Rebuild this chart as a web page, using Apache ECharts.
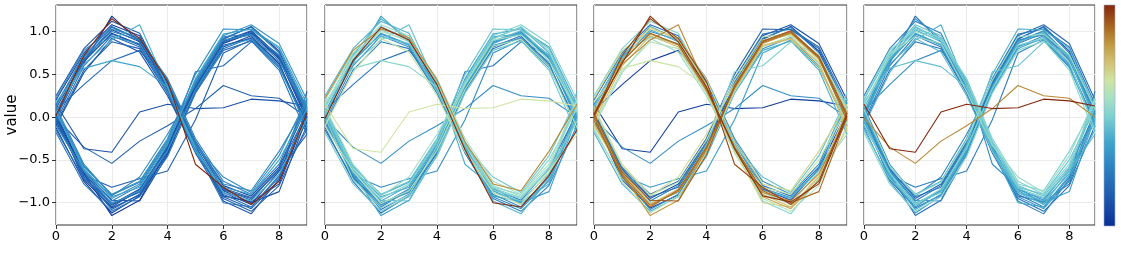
<!DOCTYPE html>
<html><head><meta charset="utf-8">
<script src="https://cdn.jsdelivr.net/npm/echarts@6/dist/echarts.min.js"></script>
<style>html,body{margin:0;padding:0;background:#fff}#c{width:1121px;height:265px}</style>
</head><body><div id="c"></div>
<script>
const xs = [0,1,2,3,4,5,6,7,8,9];
const yTicks = [-1.0,-0.5,0.0,0.5,1.0];
const xTicks = [0,2,4,6,8];
const yLabel = "value";

// series values (one row per line)
const lines = [
 [0.02, 0.72, 1.15, 0.92, 0.42, -0.55, -0.82, -1.02, -0.75, 0.05],
 [0.10, 0.68, 1.02, 0.88, 0.38, -0.30, -0.85, -0.95, -0.62, -0.05],
 [-0.05, 0.60, 0.95, 0.82, 0.30, -0.38, -0.90, -1.05, -0.70, 0.08],
 [0.20, 0.75, 1.08, 0.95, 0.40, -0.28, -0.80, -0.92, -0.58, 0.12],
 [0.05, 0.62, 0.90, 1.08, 0.35, -0.36, -0.88, -0.98, -0.66, -0.02],
 [-0.08, 0.55, 0.88, 0.80, 0.28, -0.42, -0.95, -1.10, -0.80, -0.10],
 [0.15, 0.70, 1.00, 0.90, 0.45, -0.25, -0.75, -0.90, -0.55, 0.20],
 [0.00, 0.65, 0.98, 0.85, 0.32, -0.35, -0.86, -1.00, -0.87, 0.00],
 [0.25, 0.80, 1.12, 0.98, 0.36, -0.32, -0.98, -1.13, -0.72, 0.30],
 [0.08, 0.38, 0.66, 0.78, 0.40, -0.30, -0.84, -0.97, -0.60, 0.05],
 [0.18, 0.57, 0.66, 0.59, 0.35, -0.40, -0.82, -0.90, -0.50, 0.10],
 [-0.02, 0.66, 1.05, 0.90, 0.38, -0.38, -1.00, -1.05, -0.68, -0.15],
 [0.12, 0.74, 0.94, 0.86, 0.30, -0.33, -0.70, -0.88, -0.45, 0.22],
 [0.03, 0.63, 1.18, 0.88, 0.35, -0.37, -0.92, -0.99, -0.78, 0.02],
 [-0.10, 0.52, 0.92, 0.76, 0.25, -0.40, -0.88, -1.02, -0.63, -0.20],
 [0.22, 0.78, 1.03, 0.93, 0.44, -0.29, -0.78, -0.86, -0.40, 0.15],
 [0.06, 0.67, 0.97, 0.84, 0.33, -0.36, -0.93, -1.07, -0.74, 0.04],
 [0.14, 0.71, 1.06, 0.91, 0.37, -0.31, -0.83, -0.94, -0.61, 0.18],
 [0.00, -0.70, -1.05, -0.85, -0.35, 0.35, 0.88, 1.00, 0.70, 0.00],
 [0.10, -0.62, -0.98, -0.80, -0.30, 0.40, 0.92, 1.05, 0.75, 0.05],
 [-0.12, -0.75, -1.12, -0.92, -0.42, 0.30, 0.82, 0.95, 0.62, -0.08],
 [0.05, -0.58, -0.90, -0.75, -0.25, 0.50, 1.03, 1.02, 0.80, 0.10],
 [-0.05, -0.68, -0.82, -0.72, -0.63, -0.03, 0.75, 0.90, 0.58, -0.05],
 [0.02, -0.66, -1.15, -0.97, -0.38, 0.36, 0.86, 0.98, 0.68, -0.02],
 [-0.15, -0.72, -1.00, -0.88, -0.33, 0.53, 0.60, 0.88, 0.72, 0.12],
 [0.08, -0.60, -0.95, -0.78, -0.28, 0.42, 0.95, 1.08, 0.86, 0.20],
 [-0.08, -0.65, -1.02, -0.84, -0.36, 0.33, 0.84, 0.92, 0.64, -0.15],
 [0.12, -0.55, -0.92, -0.70, -0.20, 0.38, 0.90, 0.96, 0.66, 0.08],
 [-0.02, -0.69, -1.08, -0.90, -0.40, 0.31, 0.80, 0.93, 0.60, -0.10],
 [0.04, -0.64, -0.97, -0.98, -0.44, 0.37, 0.89, 1.01, 0.71, 0.03],
 [-0.18, -0.78, -1.10, -0.93, -0.46, 0.28, 0.78, 0.89, 0.55, -0.20],
 [0.06, -0.61, -0.93, -0.82, -0.32, 0.45, 0.97, 1.03, 0.82, 0.15],
 [-0.04, -0.67, -1.03, -0.87, -0.37, 0.34, 0.87, 0.99, 0.69, -0.04],
 [0.00, -0.73, -1.06, -0.91, -0.34, 0.39, 0.91, 1.06, 0.77, 0.06],
 [0.09, -0.57, -0.91, -0.76, -0.27, 0.43, 0.94, 0.97, 0.73, 0.09],
 [-0.10, -0.63, -1.01, -0.86, -0.39, 0.32, 0.83, 0.91, 0.59, -0.12],
 [0.15, -0.37, -0.41, 0.06, 0.15, 0.10, 0.11, 0.21, 0.19, 0.13],
 [-0.01, -0.35, -0.54, -0.28, -0.10, 0.10, 0.37, 0.25, 0.22, 0.00]
];

// colour feature value of each line, one array per panel (0..1)
const colorPanel1 = [1.0,0.1,0.2,0.05,0.4,0.15,0.25,0.08,0.12,0.18,0.38,0.22,0.3,0.02,0.1,0.28,0.16,0.2,
  0.12,0.25,0.05,0.3,0.15,0.02,0.2,0.33,0.1,0.28,0.18,0.07,0.22,0.36,0.14,0.04,0.26,0.32, 0.1,0.15];
const colorPanel2 = [0.4,0.5,0.3,0.55,0.45,0.25,0.58,0.35,0.42,0.22,0.52,1.0,0.47,0.36,0.64,0.85,0.32,0.5,
  0.26,0.4,0.2,0.45,0.3,0.36,0.24,0.5,0.31,0.56,0.22,0.44,0.47,0.38,0.33,0.53,0.4,0.6, 0.66,0.3];
const colorPanel3 = [0.95,0.4,0.75,0.2,0.85,0.6,0.3,0.9,0.5,0.05,0.65,0.7,0.45,0.98,0.55,0.7,0.8,0.35,
  0.9,0.25,0.6,0.15,0.35,0.82,0.5,0.1,0.75,0.68,0.3,0.92,0.4,0.2,0.88,0.05,0.62,0.72, 0.05,0.3];
const colorPanel4 = [0.3,0.4,0.25,0.45,0.4,0.2,0.5,0.35,0.25,0.3,0.45,0.38,0.55,0.2,0.42,0.5,0.33,0.48,
  0.35,0.22,0.3,0.4,0.25,0.2,0.45,0.18,0.5,0.28,0.38,0.3,0.52,0.24,0.42,0.15,0.55,0.36, 1.0,0.85];
const panelColors = [colorPanel1, colorPanel2, colorPanel3, colorPanel4];

const cmap = [
 [0.0,'#0a2f96'],[0.12,'#1c56ab'],[0.25,'#2a7dbe'],[0.38,'#3ea6cc'],[0.5,'#7fd2d0'],
 [0.58,'#a9e0c3'],[0.66,'#cfe4a0'],[0.74,'#d2c170'],[0.82,'#c29a40'],[0.9,'#a8661f'],[1.0,'#86260a']
];
function hex2rgb(h){return [parseInt(h.slice(1,3),16),parseInt(h.slice(3,5),16),parseInt(h.slice(5,7),16)];}
function colorOf(t){
  t=Math.max(0,Math.min(1,t));
  for(let i=1;i<cmap.length;i++){
    if(t<=cmap[i][0]){
      const a=cmap[i-1],b=cmap[i];const f=(t-a[0])/(b[0]-a[0]);
      const ca=hex2rgb(a[1]),cb=hex2rgb(b[1]);
      return 'rgb('+ca.map((v,k)=>Math.round(v+(cb[k]-v)*f)).join(',')+')';
    }
  }
  return cmap[cmap.length-1][1];
}

const grids = [
 {left:56, top:5, width:251, height:220},
 {left:325, top:5, width:252, height:220},
 {left:594, top:5, width:253, height:220},
 {left:864, top:5, width:231, height:220}
];
const FONT = 'DejaVu Sans';
const fmt = v => v.toFixed(1).replace('-', '\u2212');

const option = {
  animation:false,
  textStyle:{fontFamily:FONT},
  grid: grids.map(g=>Object.assign({show:true,borderColor:'#333',borderWidth:1,backgroundColor:'transparent'},g)),
  xAxis: grids.map((g,i)=>({
    type:'value', gridIndex:i, min:0, max:9, interval:2,
    axisLine:{show:false,onZero:false},
    axisTick:{show:true,inside:false,length:4,lineStyle:{color:'#333'}},
    axisLabel:{show:true,fontSize:13,color:'#000',fontFamily:FONT,margin:5,showMaxLabel:false,formatter:v=>String(v)},
    splitLine:{show:true,lineStyle:{color:'#ebebeb',width:1}}
  })),
  yAxis: grids.map((g,i)=>({
    type:'value', gridIndex:i, min:-1.26, max:1.31,
    name: i===0?yLabel:'', nameLocation:'middle', nameGap:36, nameRotate:90, nameMoveOverlap:false,
    nameTextStyle:{fontSize:15,color:'#000',fontFamily:FONT},
    axisLine:{show:false,onZero:false},
    axisTick:{show:true,inside:false,length:4,lineStyle:{color:'#333'},customValues:yTicks},
    axisLabel:{show:i===0,fontSize:13,color:'#000',fontFamily:FONT,margin:6,customValues:yTicks,formatter:fmt},
    splitLine:{show:true,lineStyle:{color:'#ebebeb',width:1},customValues:yTicks}
  })),
  series: [],
  graphic: [{
    type:'rect', shape:{x:1104,y:5,width:11,height:221},
    style:{fill:new echarts.graphic.LinearGradient(0,0,0,1, cmap.slice().reverse().map(s=>({offset:1-s[0],color:s[1]}))),
      stroke:'#9aa8c8',lineWidth:0.6}
  }]
};

panelColors.forEach((cols,p)=>{
  const order = lines.map((_,i)=>i).sort((a,b)=>cols[a]-cols[b]);
  order.forEach((i,k)=>{
    option.series.push({
      type:'line', xAxisIndex:p, yAxisIndex:p, symbol:'none', silent:true,
      data: xs.map((x,j)=>[x,lines[i][j]]),
      lineStyle:{width:1.1,color:colorOf(cols[i])}, z:2+k/100
    });
  });
});

const chart = echarts.init(document.getElementById('c'),null,{renderer:'canvas'});
chart.setOption(option);
</script></body></html>
